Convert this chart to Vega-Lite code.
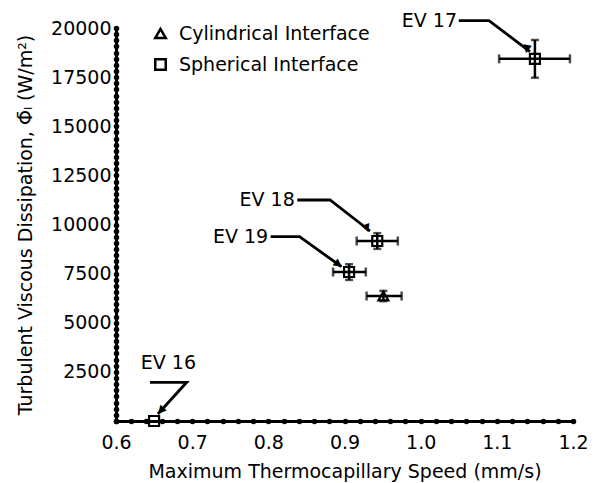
{
  "$schema": "https://vega.github.io/schema/vega-lite/v6.json",
  "width": 457,
  "height": 393,
  "autosize": {"type": "none"},
  "padding": {"left": 116, "top": 28, "right": 27, "bottom": 62},
  "background": "white",
  "config": {"view": {"stroke": null}, "font": "DejaVu Sans"},
  "datasets": {
    "pts": [
      {"ev": "EV 16", "iface": "Spherical Interface", "v": 0.65, "phi": 0, "vlo": 0.65, "vhi": 0.65, "plo": 0, "phihi": 0},
      {"ev": "EV 17", "iface": "Spherical Interface", "v": 1.15, "phi": 18430, "vlo": 1.103, "vhi": 1.196, "plo": 17470, "phihi": 19390},
      {"ev": "EV 18", "iface": "Spherical Interface", "v": 0.943, "phi": 9160, "vlo": 0.916, "vhi": 0.97, "plo": 8760, "phihi": 9560},
      {"ev": "EV 19", "iface": "Spherical Interface", "v": 0.906, "phi": 7583, "vlo": 0.885, "vhi": 0.928, "plo": 7180, "phihi": 7980},
      {"ev": "", "iface": "Cylindrical Interface", "v": 0.951, "phi": 6360, "vlo": 0.929, "vhi": 0.975, "plo": 6100, "phihi": 6620}
    ],
    "ann": [
      {"ev": "EV 16", "ord": 1, "x": 0.6446, "y": 1969},
      {"ev": "EV 16", "ord": 2, "x": 0.6928, "y": 1969},
      {"ev": "EV 16", "ord": 3, "x": 0.655, "y": 356},
      {"ev": "EV 17", "ord": 1, "x": 1.050, "y": 20371},
      {"ev": "EV 17", "ord": 2, "x": 1.0897, "y": 20371},
      {"ev": "EV 17", "ord": 3, "x": 1.1435, "y": 18793},
      {"ev": "EV 18", "ord": 1, "x": 0.838, "y": 11247},
      {"ev": "EV 18", "ord": 2, "x": 0.881, "y": 11247},
      {"ev": "EV 18", "ord": 3, "x": 0.9335, "y": 9669},
      {"ev": "EV 19", "ord": 1, "x": 0.803, "y": 9380},
      {"ev": "EV 19", "ord": 2, "x": 0.841, "y": 9380},
      {"ev": "EV 19", "ord": 3, "x": 0.896, "y": 7852}
    ],
    "heads": [
      {"ev": "EV 16", "x": 0.6587, "y": 509},
      {"ev": "EV 17", "x": 1.1393, "y": 18916},
      {"ev": "EV 18", "x": 0.9293, "y": 9796},
      {"ev": "EV 19", "x": 0.8921, "y": 7969}
    ],
    "labels": [
      {"ev": "EV 16", "x": 0.7063, "y": 2977},
      {"ev": "EV 17", "x": 1.049, "y": 20371},
      {"ev": "EV 18", "x": 0.836, "y": 11247},
      {"ev": "EV 19", "x": 0.801, "y": 9380}
    ]
  },
  "layer": [
    {
      "data": {"name": "pts"},
      "transform": [{"filter": "datum.vhi > datum.vlo"}],
      "mark": {"type": "rule", "strokeWidth": 2.5, "color": "black"},
      "encoding": {
        "x": {
          "field": "vlo", "type": "quantitative",
          "scale": {"domain": [0.6, 1.2], "nice": false, "zero": false},
          "axis": {
            "title": "Maximum Thermocapillary Speed (mm/s)",
            "values": [0.6,0.62,0.64,0.66,0.68,0.7,0.72,0.74,0.76,0.78,0.8,0.82,0.84,0.86,0.88,0.9,0.92,0.94,0.96,0.98,1.0,1.02,1.04,1.06,1.08,1.1,1.12,1.14,1.16,1.18,1.2],
            "tickCount": 1000,
            "labelExpr": "abs(round(datum.value*10) - datum.value*10) < 0.000001 ? format(datum.value, '.1f') : ''",
            "labelOverlap": false, "labelFlush": false, "labelBound": false,
            "grid": false,
            "domainColor": "black", "domainWidth": 3, "domainCap": "round",
            "tickColor": "black", "tickWidth": 5.5, "tickSize": 0.01, "tickCap": "round",
            "labelColor": "black", "labelFontSize": 19, "labelFont": "DejaVu Sans", "labelPadding": 12,
            "titleColor": "black", "titleFontSize": 19, "titleFontWeight": "normal", "titleFont": "DejaVu Sans", "titlePadding": 10
          }
        },
        "x2": {"field": "vhi"},
        "y": {
          "field": "phi", "type": "quantitative",
          "scale": {"domain": [0, 20000], "nice": false},
          "axis": {
            "title": "Turbulent Viscous Dissipation, Φ̄ₗ (W/m²)",
            "values": [0,312.5,625,937.5,1250,1562.5,1875,2187.5,2500,2812.5,3125,3437.5,3750,4062.5,4375,4687.5,5000,5312.5,5625,5937.5,6250,6562.5,6875,7187.5,7500,7812.5,8125,8437.5,8750,9062.5,9375,9687.5,10000,10312.5,10625,10937.5,11250,11562.5,11875,12187.5,12500,12812.5,13125,13437.5,13750,14062.5,14375,14687.5,15000,15312.5,15625,15937.5,16250,16562.5,16875,17187.5,17500,17812.5,18125,18437.5,18750,19062.5,19375,19687.5,20000],
            "tickCount": 1000,
            "labelExpr": "datum.value > 0 && datum.value % 2500 == 0 ? '' + datum.value : ''",
            "labelOverlap": false, "labelFlush": false, "labelBound": false,
            "grid": false,
            "domainColor": "black", "domainWidth": 3, "domainCap": "round",
            "tickColor": "black", "tickWidth": 5.5, "tickSize": 0.01, "tickCap": "round",
            "labelColor": "black", "labelFontSize": 19, "labelFont": "DejaVu Sans", "labelPadding": 5,
            "titleColor": "black", "titleFontSize": 19, "titleFontWeight": "normal", "titleFont": "DejaVu Sans", "titlePadding": 15
          }
        }
      }
    },
    {
      "data": {"name": "pts"},
      "transform": [{"filter": "datum.vhi > datum.vlo"}],
      "mark": {"type": "tick", "orient": "vertical", "thickness": 2.5, "size": 9, "color": "black"},
      "encoding": {
        "x": {"field": "vlo", "type": "quantitative"},
        "y": {"field": "phi", "type": "quantitative"}
      }
    },
    {
      "data": {"name": "pts"},
      "transform": [{"filter": "datum.vhi > datum.vlo"}],
      "mark": {"type": "tick", "orient": "vertical", "thickness": 2.5, "size": 9, "color": "black"},
      "encoding": {
        "x": {"field": "vhi", "type": "quantitative"},
        "y": {"field": "phi", "type": "quantitative"}
      }
    },
    {
      "data": {"name": "pts"},
      "transform": [{"filter": "datum.phihi > datum.plo"}],
      "mark": {"type": "rule", "strokeWidth": 2.5, "color": "black"},
      "encoding": {
        "x": {"field": "v", "type": "quantitative"},
        "y": {"field": "plo", "type": "quantitative"},
        "y2": {"field": "phihi"}
      }
    },
    {
      "data": {"name": "pts"},
      "transform": [{"filter": "datum.phihi > datum.plo"}],
      "mark": {"type": "tick", "orient": "horizontal", "thickness": 2.5, "size": 8, "color": "black"},
      "encoding": {
        "x": {"field": "v", "type": "quantitative"},
        "y": {"field": "plo", "type": "quantitative"}
      }
    },
    {
      "data": {"name": "pts"},
      "transform": [{"filter": "datum.phihi > datum.plo"}],
      "mark": {"type": "tick", "orient": "horizontal", "thickness": 2.5, "size": 8, "color": "black"},
      "encoding": {
        "x": {"field": "v", "type": "quantitative"},
        "y": {"field": "phihi", "type": "quantitative"}
      }
    },
    {
      "data": {"name": "pts"},
      "mark": {"type": "point", "filled": false, "strokeWidth": 2.2, "size": 100, "color": "black", "opacity": 1},
      "encoding": {
        "x": {"field": "v", "type": "quantitative"},
        "y": {"field": "phi", "type": "quantitative"},
        "shape": {
          "field": "iface", "type": "nominal",
          "scale": {"domain": ["Cylindrical Interface", "Spherical Interface"], "range": ["triangle-up", "square"]},
          "legend": {
            "orient": "none", "legendX": 35, "legendY": -4, "title": null,
            "symbolStrokeColor": "black", "symbolFillColor": "transparent", "symbolStrokeWidth": 2.5, "symbolSize": 110,
            "labelFontSize": 19, "labelFont": "DejaVu Sans", "labelColor": "black", "labelOffset": 9, "rowPadding": 10, "labelLimit": 400
          }
        }
      }
    },
    {
      "data": {"name": "ann"},
      "mark": {"type": "line", "strokeWidth": 2.8, "color": "black", "strokeJoin": "miter"},
      "encoding": {
        "x": {"field": "x", "type": "quantitative"},
        "y": {"field": "y", "type": "quantitative"},
        "detail": {"field": "ev", "type": "nominal"},
        "order": {"field": "ord", "type": "quantitative"}
      }
    },
    {
      "data": {"name": "heads"},
      "mark": {"type": "text", "text": "▲", "fontSize": 11, "font": "DejaVu Sans", "color": "black", "align": "center", "baseline": "middle"},
      "encoding": {
        "x": {"field": "x", "type": "quantitative"},
        "y": {"field": "y", "type": "quantitative"},
        "angle": {"field": "ev", "type": "nominal", "scale": {"domain": ["EV 16", "EV 17", "EV 18", "EV 19"], "range": [222, 127, 128, 126]}, "legend": null}
      }
    },
    {
      "data": {"name": "labels"},
      "mark": {"type": "text", "align": "right", "baseline": "middle", "fontSize": 19, "font": "DejaVu Sans", "color": "black", "dx": -1},
      "encoding": {
        "x": {"field": "x", "type": "quantitative"},
        "y": {"field": "y", "type": "quantitative"},
        "text": {"field": "ev", "type": "nominal"}
      }
    }
  ]
}
